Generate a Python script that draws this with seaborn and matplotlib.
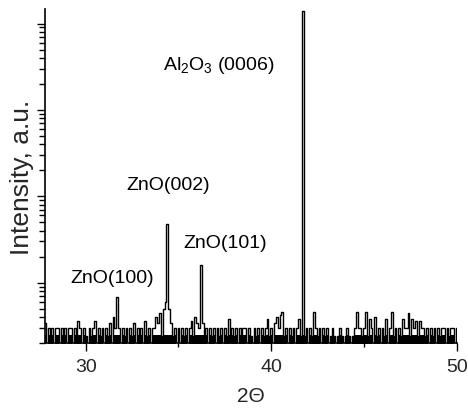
import numpy as np
import pandas as pd
import matplotlib
matplotlib.use("Agg")
import matplotlib.pyplot as plt
from matplotlib.ticker import MultipleLocator
import seaborn as sns

# XRD scan, 0.1 deg step from 27.8 to 50.0 deg
two_theta_start = 27.8
two_theta_step = 0.1
intensity = [
    3.4, 1.0,                                                   # 27.8 - 27.9
    3.0, 2.4, 3.0, 1.0, 3.0, 3.0, 1.0, 3.0, 2.4, 3.0,           # 28
    1.0, 3.0, 3.0, 1.0, 3.0, 2.4, 3.6, 3.0, 1.0, 3.0,           # 29
    2.4, 1.0, 3.0, 2.4, 3.0, 3.6, 1.0, 3.0, 2.4, 3.0,           # 30
    1.0, 3.0, 2.4, 3.4, 1.0, 4.0, 3.0, 6.8, 3.0, 1.0,           # 31
    3.0, 2.4, 3.0, 1.0, 3.0, 2.4, 3.4, 1.0, 3.0, 2.4,           # 32
    3.0, 1.0, 3.6, 2.4, 3.0, 1.0, 3.0, 3.0, 4.0, 3.4,           # 33
    4.4, 2.4, 5.0, 6.0, 48, 5.0, 3.4, 2.4, 3.0, 1.0,            # 34
    3.0, 1.0, 3.0, 2.4, 3.0, 1.0, 3.0, 3.6, 2.4, 4.0,           # 35
    3.4, 3.0, 16, 3.4, 2.4, 3.0, 1.0, 3.0, 2.4, 3.0,            # 36
    1.0, 3.0, 2.4, 3.0, 1.0, 3.0, 2.4, 3.8, 1.0, 3.0,           # 37
    2.4, 3.0, 1.0, 3.0, 2.4, 3.0, 3.0, 1.0, 3.0, 2.4,           # 38
    1.0, 3.0, 2.4, 3.0, 1.0, 3.0, 2.4, 3.0, 3.8, 2.4,           # 39
    3.0, 1.0, 3.4, 4.0, 3.0, 4.2, 4.6, 2.4, 3.0, 1.0,           # 40
    3.0, 2.4, 3.0, 1.0, 3.0, 3.8, 2.4, 13800, 2.4, 3.0,         # 41
    1.0, 3.0, 2.4, 4.6, 3.0, 2.4, 3.0, 1.0, 3.0, 2.4,           # 42
    3.0, 1.0, 2.4, 3.0, 2.4, 1.0, 2.4, 3.0, 2.4, 1.0,           # 43
    2.4, 3.0, 2.4, 1.0, 2.4, 3.0, 4.6, 3.0, 3.0, 2.4,           # 44
    3.0, 4.6, 2.4, 3.8, 3.0, 1.0, 4.0, 2.4, 3.0, 1.0,           # 45
    3.0, 2.4, 3.8, 1.0, 3.0, 4.6, 2.4, 3.0, 1.0, 3.0,           # 46
    2.4, 3.8, 3.0, 3.0, 4.4, 2.4, 3.8, 3.0, 3.6, 2.4,           # 47
    3.6, 3.0, 3.0, 2.4, 3.0, 1.0, 3.0, 2.4, 3.0, 1.0,           # 48
    3.0, 2.4, 3.0, 3.0, 1.0, 3.0, 2.4, 3.0, 3.0, 1.0,           # 49
    3.0,                                                        # 50.0
]
two_theta = np.round(two_theta_start + two_theta_step * np.arange(len(intensity)), 1)

peak_labels = ["ZnO(100)", "ZnO(002)", "ZnO(101)", "Al$_2$O$_3$ (0006)"]
label_x = [29.15, 32.2, 35.25, 34.15]
label_y = [11.5, 138, 29, 3400]

sns.set_style("ticks")
plt.rcParams["font.family"] = ["Liberation Sans", "DejaVu Sans"]
plt.rcParams["mathtext.fontset"] = "custom"
plt.rcParams["mathtext.rm"] = "Liberation Sans"
plt.rcParams["mathtext.it"] = "Liberation Sans:italic"

df = pd.DataFrame({"two_theta": two_theta, "intensity": intensity})

fig = plt.figure(figsize=(4.68, 4.10), dpi=100)
ax = fig.add_axes([0.096, 0.161, 0.880, 0.815])
sns.lineplot(data=df, x="two_theta", y="intensity", color="black",
             linewidth=1.0, drawstyle="steps-mid", ax=ax)
# dense noise floor reads as a solid black strip in the original scan
ax.fill_between(df["two_theta"], 1.0, np.minimum(df["intensity"], 2.5),
                step="mid", color="black", linewidth=0)
ax.set_yscale("log")
ax.set_xlim(27.8, 50)
ax.set_ylim(2, 14800)

ax.xaxis.set_major_locator(MultipleLocator(10))
ax.xaxis.set_minor_locator(MultipleLocator(5))
ax.tick_params(axis="x", which="major", direction="out", length=6, width=1, pad=5, labelsize=14, color="black")
ax.tick_params(axis="x", which="minor", direction="out", length=3, width=1, color="black")
ax.tick_params(axis="y", which="major", direction="out", length=6, width=1, color="black")
ax.tick_params(axis="y", which="minor", direction="out", length=4, width=1, color="black")
ax.tick_params(axis="y", which="both", labelleft=False)

for spine in ["left", "bottom"]:
    ax.spines[spine].set_color("black")
    ax.spines[spine].set_linewidth(1.2)
sns.despine(ax=ax)

ax.set_xlabel("2Θ", fontsize=15, labelpad=8)
ax.set_ylabel("Intensity, a.u.", fontsize=19, labelpad=2)

for txt, x, y in zip(peak_labels, label_x, label_y):
    ax.text(x, y, txt, fontsize=14, ha="left", va="center", color="black")

fig.savefig("out.png", dpi=100)
plt.close(fig)
